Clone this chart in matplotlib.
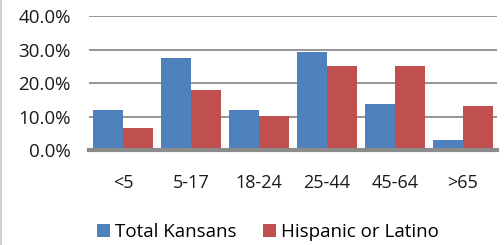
import numpy as np
import matplotlib
matplotlib.use("Agg")
import matplotlib.pyplot as plt
from matplotlib.lines import Line2D
from matplotlib.ticker import FuncFormatter

plt.rcParams['font.family'] = ['Open Sans', 'DejaVu Sans']

# age groups and share of population (%)
categories = ['<5', '5-17', '18-24', '25-44', '45-64', '>65']
total_kansans = [12.1, 27.7, 12.1, 29.5, 13.9, 3.1]
hispanic_latino = [6.7, 18.1, 10.3, 25.3, 25.3, 13.3]
series_names = ['Total Kansans', 'Hispanic or Latino']

blue = '#4F81BD'
red = '#C0504D'

fig = plt.figure(figsize=(5.04, 2.45), dpi=100)
ax = fig.add_axes([0.1766, 0.386, 0.809, 0.547])

x = np.arange(len(categories))
w = 0.441
ax.bar(x - w / 2, total_kansans, w, color=blue, label=series_names[0], zorder=3)
ax.bar(x + w / 2, hispanic_latino, w, color=red, label=series_names[1], zorder=3)

ax.set_xlim(-0.5, len(categories) - 0.5)
ax.set_ylim(0, 40)
ax.set_yticks([0, 10, 20, 30, 40])
ax.yaxis.set_major_formatter(FuncFormatter(lambda v, p: '%.1f%%' % v))
ax.set_xticks(x)
ax.set_xticklabels(categories)

ax.grid(axis='y', color='#8c8c8c', linewidth=1.3, zorder=0)
for s in ['top', 'right', 'left']:
    ax.spines[s].set_visible(False)
ax.spines['bottom'].set_color('#8c8c8c')
ax.spines['bottom'].set_linewidth(3)
ax.spines['bottom'].set_zorder(4)

ax.tick_params(axis='y', length=0, pad=13, labelsize=13.5, labelcolor='#1a1a1a')
ax.tick_params(axis='x', length=0, pad=17, labelsize=13, labelcolor='#1a1a1a')

fig.legend(loc='center', bbox_to_anchor=(0.531, 0.054), ncol=2, frameon=False,
           fontsize=13.5, handlelength=0.7, handleheight=0.7, handletextpad=0.27,
           columnspacing=1.4, borderaxespad=0)

# thin border on the left edge
fig.add_artist(Line2D([0.002, 0.002], [0, 1], transform=fig.transFigure,
                      color='#d0d0d0', linewidth=1.5))

fig.savefig('out.png', dpi=100)
